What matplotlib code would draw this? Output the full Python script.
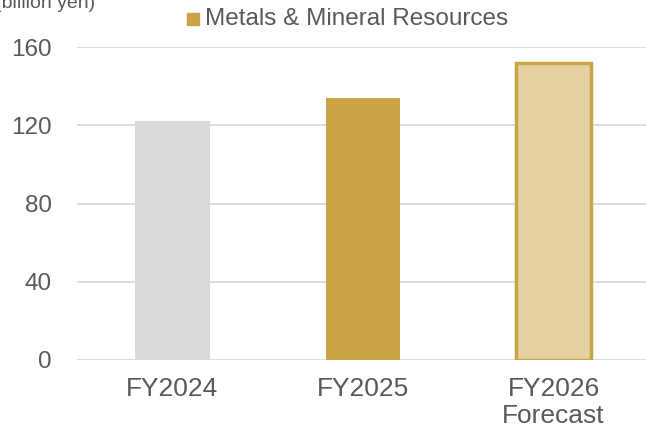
import numpy as np
import matplotlib.pyplot as plt
import matplotlib.patches as patches

plt.rcParams['font.family'] = ['Liberation Sans', 'DejaVu Sans']

categories = ["FY2024", "FY2025", "FY2026\nForecast"]
values = [122, 134, 152]
face_colors = ["#d9d9d9", "#c9a447", "#e5d0a1"]
edge_colors = ["#d9d9d9", "#c9a447", "#c9a447"]
edge_widths = [0, 0, 2.5]
yticks = [0, 40, 80, 120, 160]
legend_label = "Metals & Mineral Resources"
unit_label = "(billion yen)"

fig = plt.figure(figsize=(6.46, 4.28), dpi=100)
ax = fig.add_axes([77 / 646, 68 / 428, 572 / 646, 313 / 428])

x = np.arange(len(categories))
ax.bar(x, values, width=0.39, color=face_colors, edgecolor=edge_colors,
       linewidth=edge_widths, zorder=3)

ax.set_xlim(-0.5, 2.5)
ax.set_ylim(0, 160)
ax.set_yticks(yticks)
ax.set_xticks(x)
ax.set_xticklabels(categories, fontsize=19, color="#595959", linespacing=1.15)
ax.tick_params(axis='y', labelsize=17.5, colors="#595959", length=0, pad=18)
ax.tick_params(axis='x', length=0, pad=12)
ax.grid(axis='y', color="#d9d9d9", linewidth=1.3, zorder=0)
for s in ax.spines.values():
    s.set_visible(False)

# legend
fig.patches.append(patches.Rectangle((187 / 646, 1 - 25 / 428), 12 / 646, 12 / 428,
                                     transform=fig.transFigure, color="#c9a447"))
fig.text(205 / 646, 1 - 19 / 428, legend_label, fontsize=17.5, color="#595959", va='center')
fig.text(95 / 646, 1 - 8 / 428, unit_label, fontsize=14, color="#595959", ha='right', va='baseline')

fig.savefig("out.png", dpi=100)
